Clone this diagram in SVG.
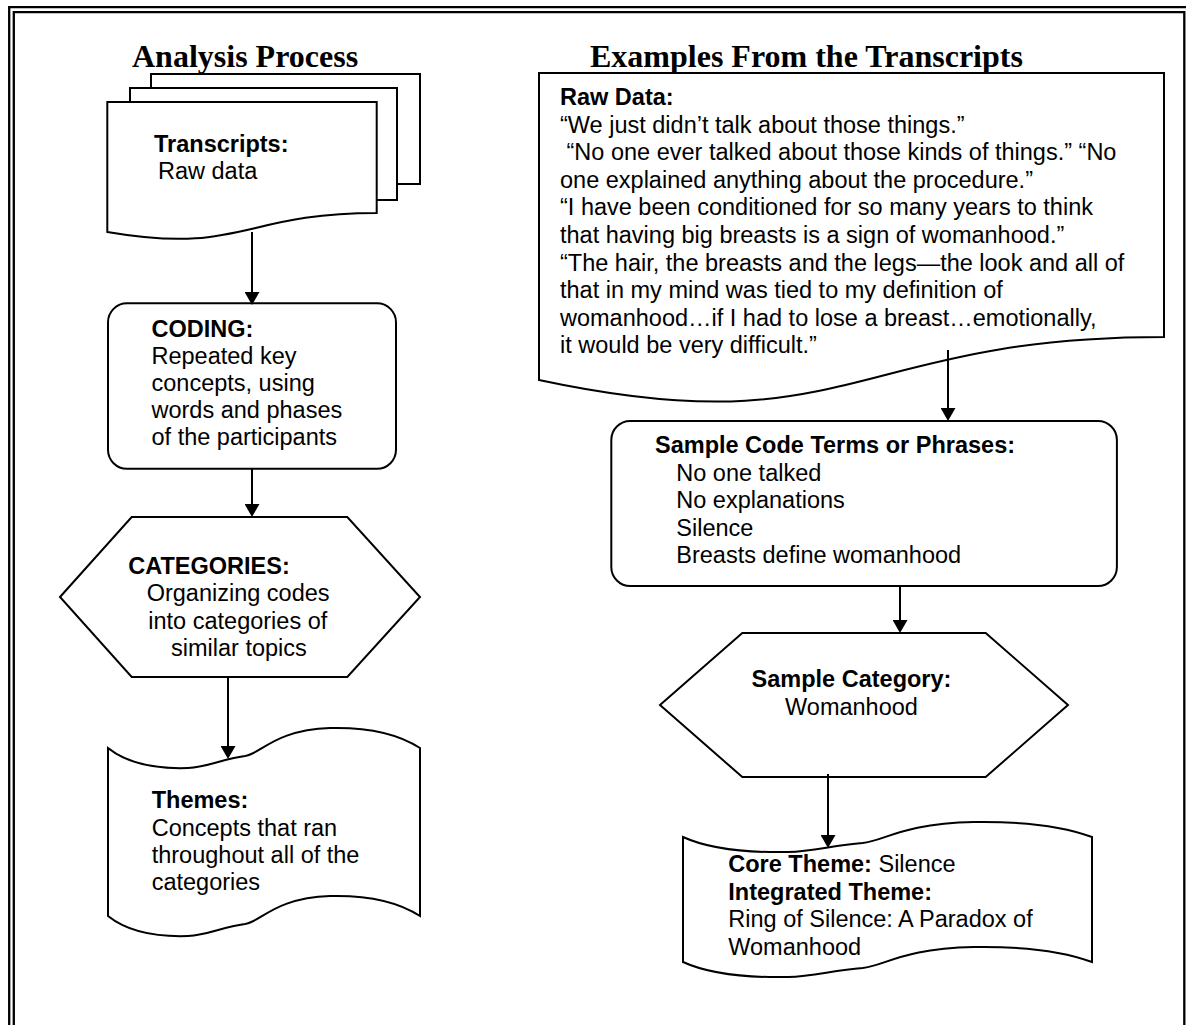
<svg xmlns="http://www.w3.org/2000/svg" width="1186" height="1025" viewBox="0 0 1186 1025">
<defs>
<style>
.shape{fill:#fff;stroke:#000;stroke-width:2;stroke-linejoin:miter}
.frame{fill:none;stroke:#000;stroke-width:2.3}
.conn{fill:none;stroke:#000;stroke-width:2}
.t{font-family:"Liberation Sans",Arial,sans-serif;font-size:23.5px;fill:#000}
.b{font-weight:bold}
.title{font-family:"Liberation Serif","Times New Roman",serif;font-size:32px;font-weight:bold;fill:#000}
</style>
<marker id="arr" markerUnits="userSpaceOnUse" viewBox="0 0 13 15" markerWidth="13" markerHeight="15" refX="9" refY="7.5" orient="auto">
<path d="M0,0 L13,7.5 L0,15 Z" fill="#000"/>
</marker>
</defs>
<rect width="1186" height="1025" fill="#fff"/>
<g id="frame">
<path class="frame" d="M9.2,1030 V7.2 H1195"/>
<path class="frame" d="M13.8,1030 V12.2 H1184.3 V1030"/>
</g>
<g id="titles">
<text class="title" x="132" y="67">Analysis Process</text>
<text class="title" x="590" y="67">Examples From the Transcripts</text>
</g>
<g id="node-transcripts">
<path class="shape" d="M151,88 V74 H420 V184 H397"/>
<path class="shape" d="M130,102 V88 H397 V200 H377"/>
<path class="shape" d="M107.3,102 H376.7 V213 C242,213 242,255 107.3,232 Z"/>
<text class="t b" x="154" y="151.5">Transcripts:</text>
<text class="t" x="158" y="179">Raw data</text>
</g>
<g id="node-coding">
<rect class="shape" x="108" y="303.3" width="288" height="165.5" rx="19" ry="19"/>
<text class="t b" x="151.5" y="336.5">CODING:</text>
<text class="t" x="151.5" y="363.5">Repeated key</text>
<text class="t" x="151.5" y="390.5">concepts, using</text>
<text class="t" x="151.5" y="417.5">words and phases</text>
<text class="t" x="151.5" y="444.5">of the participants</text>
</g>
<g id="node-categories">
<polygon class="shape" points="60,597 131.7,517 347.3,517 420,597 347.3,677 131.7,677"/>
<text class="t b" x="128.3" y="573.5">CATEGORIES:</text>
<text class="t" x="146.7" y="601">Organizing codes</text>
<text class="t" x="148.3" y="628.5">into categories of</text>
<text class="t" x="171" y="656">similar topics</text>
</g>
<g id="node-themes">
<path class="shape" d="M108,748 C128,764 158,769 188,768 C208,767 222,759 245,756 C262,753 275,730 330,728 C370,727 400,735 420,748 V916 C400,903 370,895 330,896 C275,898 262,921 245,924 C222,927 208,935 188,936 C158,937 128,932 108,916 Z"/>
<text class="t b" x="151.7" y="808.3">Themes:</text>
<text class="t" x="151.7" y="836">Concepts that ran</text>
<text class="t" x="151.7" y="863">throughout all of the</text>
<text class="t" x="151.7" y="890">categories</text>
</g>
<g id="node-rawdata">
<path class="shape" d="M539,73 H1164 V337 C851,337 851,447 539,380 Z"/>
<text class="t b" x="560" y="105">Raw Data:</text>
<text class="t" x="560" y="132.6">“We just didn’t talk about those things.”</text>
<text class="t" x="566.5" y="160.2">“No one ever talked about those kinds of things.” “No</text>
<text class="t" x="560" y="187.8">one explained anything about the procedure.”</text>
<text class="t" x="560" y="215.4">“I have been conditioned for so many years to think</text>
<text class="t" x="560" y="243">that having big breasts is a sign of womanhood.”</text>
<text class="t" x="560" y="270.6">“The hair, the breasts and the legs—the look and all of</text>
<text class="t" x="560" y="298.2">that in my mind was tied to my definition of</text>
<text class="t" x="560" y="325.8">womanhood…if I had to lose a breast…emotionally,</text>
<text class="t" x="560" y="353.4">it would be very difficult.”</text>
</g>
<g id="node-samplecode">
<rect class="shape" x="611.3" y="421" width="505.6" height="165" rx="19" ry="19"/>
<text class="t b" x="655" y="452.7">Sample Code Terms or Phrases:</text>
<text class="t" x="676.3" y="480.5">No one talked</text>
<text class="t" x="676.3" y="508.1">No explanations</text>
<text class="t" x="676.3" y="535.7">Silence</text>
<text class="t" x="676.3" y="563.3">Breasts define womanhood</text>
</g>
<g id="node-samplecategory">
<polygon class="shape" points="660,705 742.3,633 985.7,633 1068,705 985.7,777 742.3,777"/>
<text class="t b" x="851.5" y="687.3" text-anchor="middle">Sample Category:</text>
<text class="t" x="851.5" y="715" text-anchor="middle">Womanhood</text>
</g>
<g id="node-coretheme">
<path class="shape" d="M683,837 C709.2,849 748.5,852.75 787.9,852 C814.1,851.25 832.5,845.25 862.6,843 C884.9,840.75 901.9,823.5 974,822 C1026.5,821.25 1065.8,827.25 1092,837 V962 C1065.8,952.25 1026.5,946.25 974,947 C901.9,948.5 884.9,965.75 862.6,968 C832.5,970.25 814.1,976.25 787.9,977 C748.5,977.75 709.2,974 683,962 Z"/>
<text class="t" x="728.3" y="872"><tspan class="b">Core Theme:</tspan> Silence</text>
<text class="t b" x="728.3" y="899.5">Integrated Theme:</text>
<text class="t" x="728.3" y="927">Ring of Silence: A Paradox of</text>
<text class="t" x="728.3" y="954.5">Womanhood</text>
</g>
<g id="connectors">
<line class="conn" x1="252" y1="232" x2="252" y2="301" marker-end="url(#arr)"/>
<line class="conn" x1="252" y1="469" x2="252" y2="513" marker-end="url(#arr)"/>
<line class="conn" x1="228" y1="677" x2="228" y2="755" marker-end="url(#arr)"/>
<line class="conn" x1="948" y1="350" x2="948" y2="417" marker-end="url(#arr)"/>
<line class="conn" x1="900" y1="586" x2="900" y2="629" marker-end="url(#arr)"/>
<line class="conn" x1="828" y1="774" x2="828" y2="844" marker-end="url(#arr)"/>
</g>
</svg>
